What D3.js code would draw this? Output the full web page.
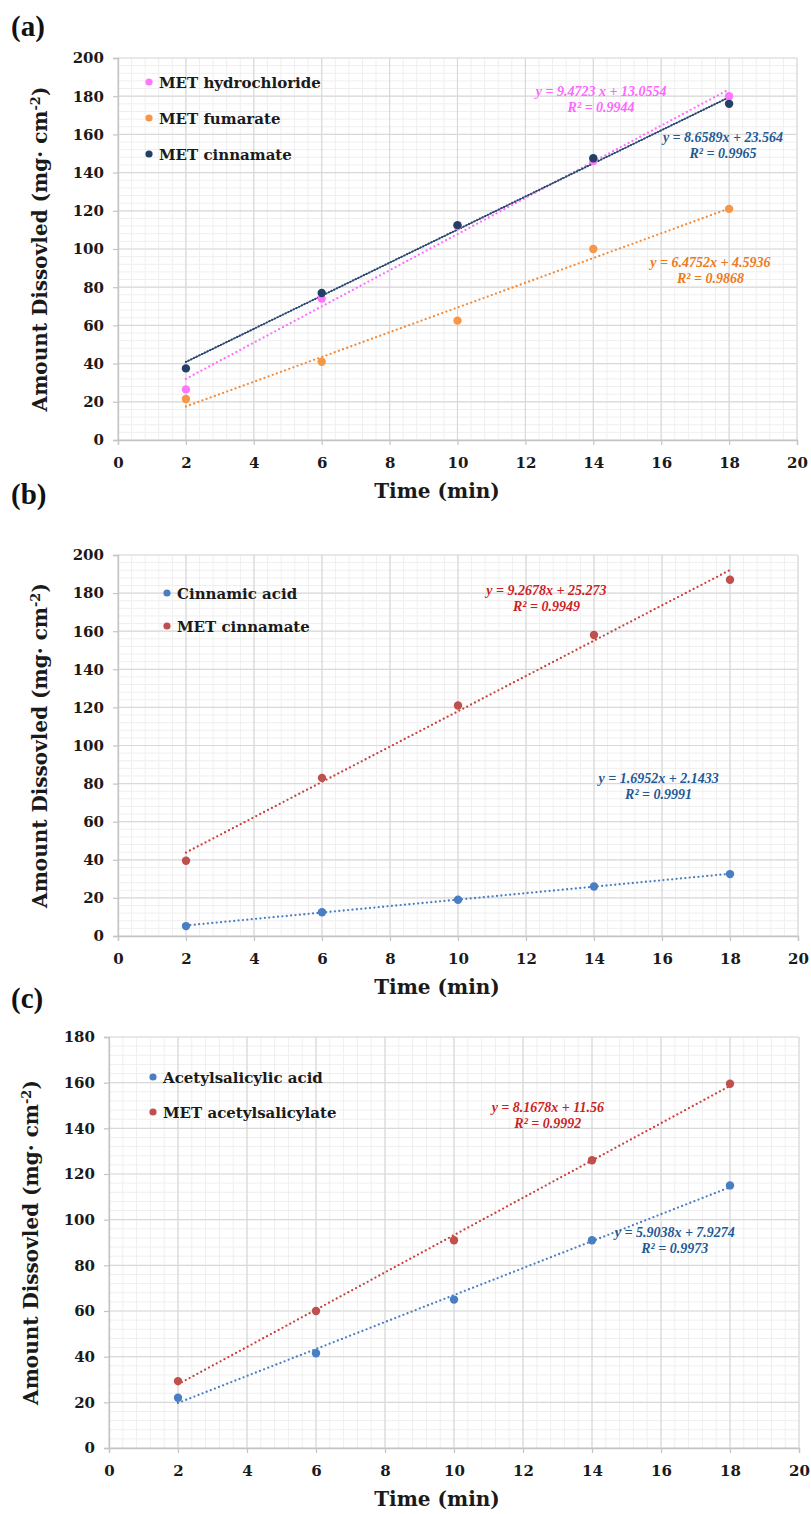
<!DOCTYPE html>
<html>
<head>
<meta charset="utf-8">
<script src="https://cdn.jsdelivr.net/npm/d3@7"></script>
<style>
  body { margin: 0; background: #fff; }
  svg { display: block; }
  .tick-label { font-family: "DejaVu Serif", serif; font-weight: bold; font-size: 15px; fill: #1a1a1a; }
  .axis-title { font-family: "DejaVu Serif", serif; font-weight: bold; font-size: 20px; fill: #1a1a1a; }
  .legend-text { font-family: "DejaVu Serif", serif; font-weight: bold; font-size: 15px; fill: #1a1a1a; }
  .eq { font-family: "Liberation Serif", serif; font-weight: bold; font-style: italic; font-size: 14px; }
  .panel-tag { font-family: "Liberation Serif", serif; font-weight: bold; font-size: 29px; fill: #111; }
</style>
</head>
<body>
<div id="chart"></div>
<script>
// --- data ---
const timeMin = [2, 6, 10, 14, 18];
const xTicks = [0, 2, 4, 6, 8, 10, 12, 14, 16, 18, 20];

// panel (a)
const metHydrochloride = [26.5, 74, 112, 146, 180];
const metFumarate = [21.5, 41, 62.5, 100, 121];
const metCinnamateA = [37.5, 77, 112.5, 147.5, 176];
const trendA = [[9.4723, 13.0554], [6.4752, 4.5936], [8.6589, 23.564]];
const eqTextA = [["y = 9.4723 x + 13.0554", "R² = 0.9944"], ["y = 6.4752x + 4.5936", "R² = 0.9868"], ["y = 8.6589x + 23.564", "R² = 0.9965"]];

// panel (b)
const cinnamicAcid = [5.2, 12.5, 19, 26, 32.5];
const metCinnamateB = [39.5, 83, 121, 158, 187];
const trendB = [[1.6952, 2.1433], [9.2678, 25.273]];
const eqTextB = [["y = 1.6952x + 2.1433", "R² = 0.9991"], ["y = 9.2678x + 25.273", "R² = 0.9949"]];

// panel (c)
const acetylsalicylicAcid = [22, 41.5, 65, 91, 115];
const metAcetylsalicylate = [29.3, 60, 91, 126, 159.5];
const trendC = [[5.9038, 7.9274], [8.1678, 11.56]];
const eqTextC = [["y = 5.9038x + 7.9274", "R² = 0.9973"], ["y = 8.1678x + 11.56", "R² = 0.9992"]];

// --- layout ---
const W = 811, H = 1514;
const svg = d3.select("#chart").append("svg").attr("width", W).attr("height", H);

const panels = [
  {
    tag: "(a)", tagY: 36, box: { l: 118, r: 797, t: 58, b: 440 }, yMax: 200,
    legend: { x: 149, y: 82, step: 36 },
    series: [
      { name: "MET hydrochloride", values: metHydrochloride, color: "#ff77ff", trendColor: "#ff6cff", eqColor: "#ff66ff", trend: trendA[0], eq: eqTextA[0], eqAt: [14.23, 182.7], dense: false },
      { name: "MET fumarate", values: metFumarate, color: "#f79646", trendColor: "#f58a36", eqColor: "#ec7a1c", trend: trendA[1], eq: eqTextA[1], eqAt: [17.45, 93.2], dense: false },
      { name: "MET cinnamate", values: metCinnamateA, color: "#243f66", trendColor: "#2a4670", eqColor: "#1f5a96", trend: trendA[2], eq: eqTextA[2], eqAt: [17.82, 158.6], dense: true }
    ]
  },
  {
    tag: "(b)", tagY: 504, box: { l: 118, r: 798, t: 555, b: 936 }, yMax: 200,
    legend: { x: 167, y: 593, step: 33 },
    series: [
      { name: "Cinnamic acid", values: cinnamicAcid, color: "#4a7ec2", trendColor: "#4a7ec2", eqColor: "#1f5a96", trend: trendB[0], eq: eqTextB[0], eqAt: [15.9, 83], dense: false },
      { name: "MET cinnamate", values: metCinnamateB, color: "#c0504d", trendColor: "#c8403c", eqColor: "#cc1f1f", trend: trendB[1], eq: eqTextB[1], eqAt: [12.6, 181.6], dense: false }
    ]
  },
  {
    tag: "(c)", tagY: 1008, box: { l: 109, r: 799, t: 1037, b: 1448 }, yMax: 180,
    legend: { x: 153, y: 1077, step: 35 },
    series: [
      { name: "Acetylsalicylic acid", values: acetylsalicylicAcid, color: "#4a7ec2", trendColor: "#4a7ec2", eqColor: "#1f5a96", trend: trendC[0], eq: eqTextC[0], eqAt: [16.4, 94.4], dense: false },
      { name: "MET acetylsalicylate", values: metAcetylsalicylate, color: "#c0504d", trendColor: "#c8403c", eqColor: "#cc1f1f", trend: trendC[1], eq: eqTextC[1], eqAt: [12.72, 149.4], dense: false }
    ]
  }
];

panels.forEach(p => {
  const b = p.box;
  const x = d3.scaleLinear().domain([0, 20]).range([b.l, b.r]);
  const y = d3.scaleLinear().domain([0, p.yMax]).range([b.b, b.t]);
  const g = svg.append("g");

  // panel tag
  svg.append("text").attr("class", "panel-tag").attr("x", 11).attr("y", p.tagY).text(p.tag);

  // minor grid
  const minorX = d3.range(0, 20.001, 0.4);
  const minorY = d3.range(0, p.yMax + 0.001, 4);
  g.append("g").selectAll("line").data(minorX).join("line")
    .attr("x1", d => x(d)).attr("x2", d => x(d)).attr("y1", b.t).attr("y2", b.b)
    .attr("stroke", "#efefef").attr("stroke-width", 1);
  g.append("g").selectAll("line").data(minorY).join("line")
    .attr("x1", b.l).attr("x2", b.r).attr("y1", d => y(d)).attr("y2", d => y(d))
    .attr("stroke", "#efefef").attr("stroke-width", 1);

  // major grid
  const yTicks = d3.range(0, p.yMax + 1, 20);
  g.append("g").selectAll("line").data(xTicks).join("line")
    .attr("x1", d => x(d)).attr("x2", d => x(d)).attr("y1", b.t).attr("y2", b.b)
    .attr("stroke", "#d9d9d9").attr("stroke-width", 1.2);
  g.append("g").selectAll("line").data(yTicks).join("line")
    .attr("x1", b.l).attr("x2", b.r).attr("y1", d => y(d)).attr("y2", d => y(d))
    .attr("stroke", "#d9d9d9").attr("stroke-width", 1.2);

  // axes
  const xAxis = g.append("g").attr("transform", `translate(0,${b.b})`)
    .call(d3.axisBottom(x).tickValues(xTicks).tickSize(5).tickPadding(9).tickFormat(d3.format("d")));
  const yAxis = g.append("g").attr("transform", `translate(${b.l},0)`)
    .call(d3.axisLeft(y).tickValues(yTicks).tickSize(5).tickPadding(9).tickFormat(d3.format("d")));
  [xAxis, yAxis].forEach(a => {
    a.select(".domain").attr("stroke", "#c4c4c4").attr("stroke-width", 1.3);
    a.selectAll(".tick line").attr("stroke", "#c4c4c4").attr("stroke-width", 1.2);
    a.selectAll(".tick text").attr("class", "tick-label").attr("font-family", null).attr("font-size", null);
  });
  xAxis.selectAll(".tick text").attr("dy", "0.9em");

  // axis titles
  g.append("text").attr("class", "axis-title")
    .attr("x", 437).attr("y", b.b + 58).attr("text-anchor", "middle").text("Time (min)");
  const yt = g.append("text").attr("class", "axis-title")
    .attr("transform", `translate(${b.l - 71},${(b.t + b.b) / 2}) rotate(-90)`)
    .attr("text-anchor", "middle");
  yt.append("tspan").text("Amount Dissovled (mg· cm");
  yt.append("tspan").attr("font-size", "13px").attr("baseline-shift", "super").text("-2");
  yt.append("tspan").text(")");

  // trendlines
  p.series.forEach(s => {
    const pts = [2, 18].map(t => [x(t), y(s.trend[0] * t + s.trend[1])]);
    if (s.dense) {
      g.append("line")
        .attr("x1", pts[0][0]).attr("y1", pts[0][1]).attr("x2", pts[1][0]).attr("y2", pts[1][1])
        .attr("stroke", s.trendColor).attr("stroke-width", 1.1);
      g.append("line")
        .attr("x1", pts[0][0]).attr("y1", pts[0][1]).attr("x2", pts[1][0]).attr("y2", pts[1][1])
        .attr("stroke", s.trendColor).attr("stroke-width", 2.2)
        .attr("stroke-linecap", "round").attr("stroke-dasharray", "0 3");
    } else {
      g.append("line")
        .attr("x1", pts[0][0]).attr("y1", pts[0][1]).attr("x2", pts[1][0]).attr("y2", pts[1][1])
        .attr("stroke", s.trendColor).attr("stroke-width", 2.3)
        .attr("stroke-linecap", "round").attr("stroke-dasharray", "0 4.4");
    }
  });

  // points
  p.series.forEach(s => {
    g.append("g").selectAll("circle").data(s.values).join("circle")
      .attr("cx", (d, i) => x(timeMin[i])).attr("cy", d => y(d)).attr("r", 4.2)
      .attr("fill", s.color);
  });

  // equation labels
  p.series.forEach(s => {
    const cx = x(s.eqAt[0]), cy = y(s.eqAt[1]);
    s.eq.forEach((line, i) => {
      g.append("text").attr("class", "eq")
        .attr("x", cx).attr("y", cy + 5 + i * 16)
        .attr("text-anchor", "middle").attr("fill", s.eqColor).text(line);
    });
  });

  // legend
  p.series.forEach((s, i) => {
    const ly = p.legend.y + i * p.legend.step;
    g.append("circle").attr("cx", p.legend.x).attr("cy", ly).attr("r", 3.6).attr("fill", s.color);
    g.append("text").attr("class", "legend-text")
      .attr("x", p.legend.x + 10).attr("y", ly + 5.5).text(s.name);
  });
});
</script>
</body>
</html>
